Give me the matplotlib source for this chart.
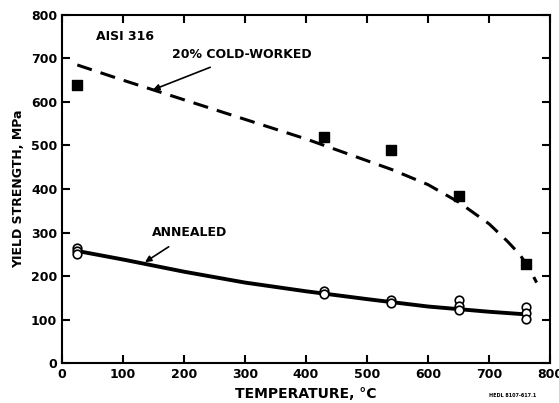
import matplotlib.pyplot as plt

# measured points
cw_temp = [25, 430, 540, 650, 760]
cw_ys = [638, 520, 490, 383, 228]

ann_temp = [25, 25, 25, 430, 430, 540, 540, 650, 650, 650, 760, 760, 760]
ann_ys = [265, 258, 250, 165, 158, 145, 138, 145, 132, 122, 130, 115, 102]

# trend curves
cw_curve_t = [25, 100, 200, 300, 400, 430, 500, 540, 600, 650, 700, 730, 750, 765, 778]
cw_curve_y = [685, 650, 605, 560, 515, 500, 465, 445, 410, 370, 320, 280, 250, 220, 185]

ann_curve_t = [35, 100, 200, 300, 400, 500, 600, 700, 760]
ann_curve_y = [255, 238, 210, 185, 165, 147, 130, 118, 112]

plt.rcParams['font.family'] = 'DejaVu Sans'
plt.rcParams['font.weight'] = 'bold'

fig = plt.figure(figsize=(5.59, 4.03), dpi=100)
ax = fig.add_axes([0.111, 0.099, 0.873, 0.864])

ax.plot(cw_curve_t, cw_curve_y, color='black', lw=2.2, dashes=(5, 3))
ax.plot(ann_curve_t, ann_curve_y, color='black', lw=2.8)
ax.scatter(cw_temp, cw_ys, marker='s', s=50, color='black', zorder=3)
ax.scatter(ann_temp, ann_ys, marker='o', s=38, facecolor='white',
           edgecolor='black', linewidths=1.2, zorder=3)

ax.set_xlim(0, 800)
ax.set_ylim(0, 800)
ax.set_xticks(range(0, 801, 100))
ax.set_yticks(range(0, 801, 100))
ax.tick_params(direction='in', length=6, width=1.5, top=True, right=True,
               labelsize=9)
for lab in ax.get_xticklabels() + ax.get_yticklabels():
    lab.set_fontweight('bold')
for s in ax.spines.values():
    s.set_linewidth(1.5)

ax.set_xlabel('TEMPERATURE, °C', fontsize=10, fontweight='bold')
ax.set_ylabel('YIELD STRENGTH, MPa', fontsize=9, fontweight='bold')

ax.text(55, 750, 'AISI 316', fontsize=9, fontweight='bold', va='center')
ax.annotate('20% COLD-WORKED', xy=(149, 628), xytext=(180, 708),
            fontsize=9, fontweight='bold', va='center',
            arrowprops=dict(arrowstyle='-|>', color='black', lw=1.2,
                            shrinkA=6, shrinkB=0))
ax.annotate('ANNEALED', xy=(136, 232), xytext=(148, 299),
            fontsize=9, fontweight='bold', va='center',
            arrowprops=dict(arrowstyle='-|>', color='black', lw=1.2,
                            shrinkA=6, shrinkB=0))

fig.text(0.875, 0.015, 'HEDL 8107-617.1', fontsize=3.5, fontweight='bold')

fig.savefig('out.png', dpi=100)
